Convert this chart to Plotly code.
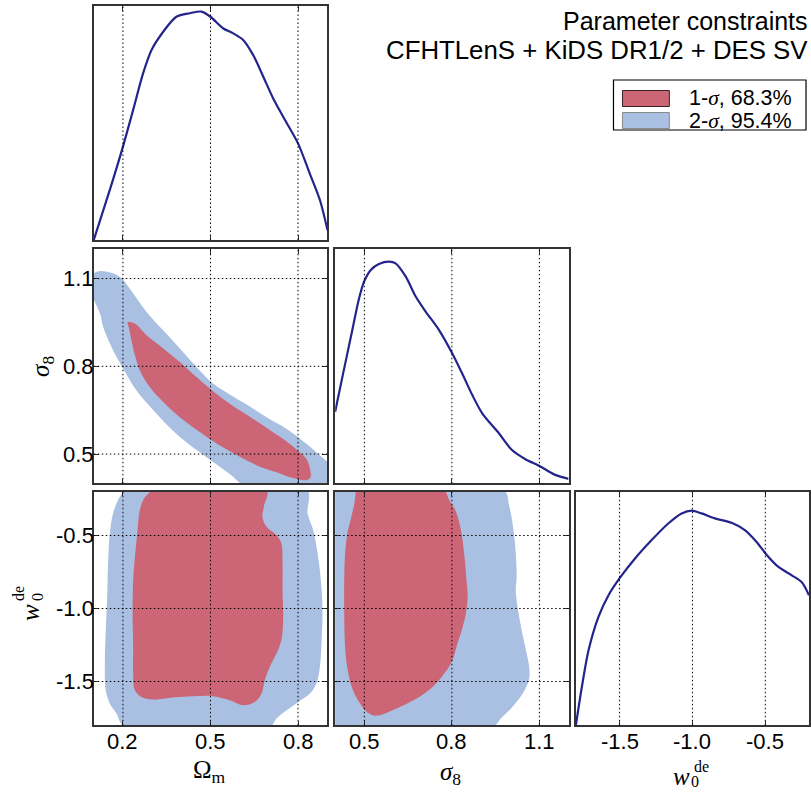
import plotly.graph_objects as go

W, H = 811, 792

# ---------------- data ----------------
# 1D marginal of Omega_m
om_x = [0.100, 0.155, 0.200, 0.235, 0.269, 0.298, 0.338, 0.383, 0.429, 0.469, 0.500,
        0.543, 0.578, 0.612, 0.646, 0.681, 0.715, 0.749, 0.800, 0.840, 0.875, 0.901]
om_p = [0.000, 0.214, 0.399, 0.556, 0.712, 0.812, 0.890, 0.954, 0.969, 0.976, 0.954,
        0.905, 0.883, 0.855, 0.791, 0.698, 0.605, 0.527, 0.413, 0.285, 0.171, 0.043]

# 1D marginal of sigma_8
s8_x = [0.400, 0.425, 0.454, 0.482, 0.499, 0.522, 0.550, 0.585, 0.607, 0.642, 0.676,
        0.710, 0.756, 0.801, 0.835, 0.870, 0.904, 0.961, 1.006, 1.052, 1.100, 1.154, 1.200]
s8_p = [0.306, 0.456, 0.627, 0.791, 0.862, 0.912, 0.937, 0.947, 0.940, 0.883, 0.798,
        0.734, 0.655, 0.556, 0.470, 0.377, 0.299, 0.214, 0.142, 0.103, 0.074, 0.036, 0.019]

# 1D marginal of w0
w0_x = [-1.800, -1.759, -1.713, -1.645, -1.576, -1.492, -1.394, -1.280, -1.166, -1.074,
        -1.006, -0.937, -0.846, -0.732, -0.640, -0.561, -0.490, -0.412, -0.321, -0.252, -0.200]
w0_p = [0.000, 0.164, 0.321, 0.464, 0.557, 0.636, 0.714, 0.793, 0.864, 0.907,
        0.919, 0.907, 0.886, 0.867, 0.836, 0.786, 0.729, 0.679, 0.643, 0.614, 0.557]

# Omega_m - sigma_8 contours
oms8_2s_om = [0.098, 0.121, 0.166, 0.195, 0.223, 0.281, 0.338, 0.395, 0.463, 0.509, 0.566,
              0.623, 0.692, 0.761, 0.829, 0.875, 0.905, 0.910, 0.623, 0.566, 0.486, 0.395,
              0.315, 0.246, 0.201, 0.166, 0.132, 0.123, 0.109, 0.098]
oms8_2s_s8 = [1.118, 1.126, 1.118, 1.101, 1.066, 0.986, 0.923, 0.861, 0.786, 0.741, 0.704,
              0.670, 0.626, 0.586, 0.535, 0.495, 0.466, 0.390, 0.390, 0.432, 0.489, 0.558,
              0.638, 0.718, 0.792, 0.855, 0.935, 0.975, 1.009, 1.032]
oms8_1s_om = [0.218, 0.241, 0.281, 0.338, 0.395, 0.452, 0.509, 0.566, 0.623, 0.692, 0.761,
              0.806, 0.831, 0.841, 0.843, 0.829, 0.783, 0.726, 0.669, 0.601, 0.532, 0.463,
              0.395, 0.338, 0.292, 0.258, 0.241, 0.229, 0.221, 0.215]
oms8_1s_s8 = [0.952, 0.946, 0.906, 0.861, 0.815, 0.763, 0.715, 0.672, 0.635, 0.590, 0.543,
              0.506, 0.480, 0.449, 0.421, 0.411, 0.418, 0.438, 0.457, 0.491, 0.529, 0.575,
              0.626, 0.678, 0.729, 0.786, 0.838, 0.889, 0.929, 0.949]

# Omega_m - w0 contours
omw_2s_om = [0.201, 0.829, 0.833, 0.852, 0.869, 0.881, 0.884, 0.881, 0.875, 0.863, 0.841,
             0.801, 0.761, 0.726, 0.703, 0.206, 0.178, 0.155, 0.141, 0.138, 0.141, 0.146,
             0.149, 0.155, 0.166, 0.183, 0.198]
omw_2s_w = [-0.180, -0.180, -0.349, -0.463, -0.646, -0.874, -1.034, -1.217, -1.400, -1.514,
            -1.583, -1.640, -1.697, -1.754, -1.811, -1.811, -1.720, -1.651, -1.560, -1.377,
            -1.149, -0.920, -0.691, -0.486, -0.349, -0.257, -0.207]
omw_1s_om = [0.296, 0.692, 0.683, 0.678, 0.692, 0.726, 0.743, 0.747, 0.747, 0.749, 0.743,
             0.726, 0.703, 0.686, 0.675, 0.652, 0.612, 0.566, 0.509, 0.441, 0.372, 0.303,
             0.263, 0.241, 0.235, 0.235, 0.233, 0.235, 0.241, 0.249, 0.258, 0.272, 0.290]
omw_1s_w = [-0.180, -0.180, -0.303, -0.371, -0.440, -0.497, -0.554, -0.691, -0.874, -1.080,
            -1.217, -1.309, -1.400, -1.491, -1.583, -1.640, -1.663, -1.629, -1.601, -1.601,
            -1.610, -1.624, -1.606, -1.560, -1.446, -1.263, -1.034, -0.806, -0.646, -0.486,
            -0.326, -0.246, -0.207]

# sigma_8 - w0 contours
s8w_2s_s8 = [0.391, 0.974, 0.997, 1.011, 1.019, 1.022, 1.019, 1.025, 1.037, 1.054, 1.065,
             1.065, 1.052, 1.031, 1.002, 0.968, 0.939, 0.391]
s8w_2s_w = [-0.180, -0.180, -0.303, -0.463, -0.623, -0.783, -0.874, -0.989, -1.126, -1.286,
            -1.400, -1.480, -1.549, -1.617, -1.686, -1.754, -1.811, -1.811]
s8w_1s_s8 = [0.472, 0.768, 0.791, 0.814, 0.831, 0.842, 0.850, 0.854, 0.848, 0.837, 0.819,
             0.802, 0.774, 0.734, 0.688, 0.642, 0.597, 0.551, 0.528, 0.505, 0.482, 0.459,
             0.442, 0.434, 0.431, 0.431, 0.434, 0.442, 0.454, 0.465]
s8w_1s_w = [-0.180, -0.180, -0.257, -0.337, -0.463, -0.623, -0.806, -0.920, -1.034, -1.126,
            -1.240, -1.354, -1.446, -1.537, -1.606, -1.656, -1.697, -1.731, -1.731, -1.702,
            -1.640, -1.549, -1.411, -1.263, -1.034, -0.806, -0.623, -0.486, -0.383, -0.291]

# ticks
om_ticks = [0.2, 0.5, 0.8]
om_ticktext = ["0.2", "0.5", "0.8"]
s8_ticks = [0.5, 0.8, 1.1]
s8_ticktext = ["0.5", "0.8", "1.1"]
w0_ticks = [-1.5, -1.0, -0.5]
w0_ticktext = ["-1.5", "-1.0", "-0.5"]

om_range = [0.1, 0.9]
s8_range = [0.4, 1.2]
w0_range = [-1.8, -0.2]

title_lines = ["Parameter constraints", "CFHTLenS + KiDS DR1/2 + DES SV"]
legend_labels = ["1-<span style=\"font-family:'Liberation Serif'\"><i>σ</i></span>, 68.3%",
                 "2-<span style=\"font-family:'Liberation Serif'\"><i>σ</i></span>, 95.4%"]

# ---------------- styles ----------------
RED = "#CC6677"
BLUE = "#AAC0E3"
NAVY = "#24248C"
FRAME = "#333333"
SANS = "Liberation Sans, Arial, sans-serif"
SERIF = "Liberation Serif, Times New Roman, serif"
TICKFONT = dict(family=SANS, size=22, color="black")


def px_x(p):
    return p / W


def px_y(p):
    return 1 - p / H


col_l = [94, 336, 577.3]
col_r = [328, 570, 811]
row_t = [6, 249.3, 491.7]
row_b = [240, 483.3, 725.3]


def xdom(c):
    return [px_x(col_l[c]), min(1.0, px_x(col_r[c]))]


def ydom(r):
    return [px_y(row_b[r]), px_y(row_t[r])]


fig = go.Figure()


def fill(x, y, color, xa, ya):
    fig.add_trace(go.Scatter(x=x, y=y, xaxis=xa, yaxis=ya, mode="lines",
                             line=dict(color=color, width=0, shape="spline", smoothing=1.0),
                             fill="toself", fillcolor=color, hoverinfo="skip", showlegend=False))


def curve(x, y, xa, ya):
    fig.add_trace(go.Scatter(x=x, y=y, xaxis=xa, yaxis=ya, mode="lines",
                             line=dict(color=NAVY, width=2.2, shape="spline", smoothing=0.8),
                             hoverinfo="skip", showlegend=False))


# panel 1: Omega_m 1D
curve(om_x, om_p, "x", "y")
# panel 2: Omega_m - sigma_8
fill(oms8_2s_om, oms8_2s_s8, BLUE, "x2", "y2")
fill(oms8_1s_om, oms8_1s_s8, RED, "x2", "y2")
# panel 3: sigma_8 1D
curve(s8_x, s8_p, "x3", "y3")
# panel 4: Omega_m - w0
fill(omw_2s_om, omw_2s_w, BLUE, "x4", "y4")
fill(omw_1s_om, omw_1s_w, RED, "x4", "y4")
# panel 5: sigma_8 - w0
fill(s8w_2s_s8, s8w_2s_w, BLUE, "x5", "y5")
fill(s8w_1s_s8, s8w_1s_w, RED, "x5", "y5")
# panel 6: w0 1D
curve(w0_x, w0_p, "x6", "y6")

base = dict(showline=True, linecolor=FRAME, linewidth=1.5, mirror="ticks",
            ticks="inside", ticklen=5, tickwidth=1.2, tickcolor=FRAME,
            showgrid=False, zeroline=False, fixedrange=True, layer="above traces",
            showticklabels=False, tickfont=TICKFONT)

panels = [
    (0, 0, om_range, om_ticks, om_ticktext, False, [0, 1.0], None, None, False),
    (0, 1, om_range, om_ticks, om_ticktext, False, s8_range, s8_ticks, s8_ticktext, True),
    (1, 1, s8_range, s8_ticks, s8_ticktext, False, [0, 1.0], None, None, False),
    (0, 2, om_range, om_ticks, om_ticktext, True, w0_range, w0_ticks, w0_ticktext, True),
    (1, 2, s8_range, s8_ticks, s8_ticktext, True, w0_range, w0_ticks, w0_ticktext, False),
    (2, 2, w0_range, w0_ticks, w0_ticktext, True, [0, 1.0], None, None, False),
]

layout_axes = {}
shapes = []
annotations = []
for i, (c, r, xr, xt, xtt, xl, yr, yt, ytt, yl) in enumerate(panels):
    sfx = "" if i == 0 else str(i + 1)
    xid, yid = "x" + sfx, "y" + sfx
    xa = dict(base, domain=xdom(c), range=xr, tickvals=xt, anchor=yid)
    if yt is None:
        ya = dict(base, domain=ydom(r), range=yr, ticks="", mirror=True, anchor=xid)
    else:
        ya = dict(base, domain=ydom(r), range=yr, tickvals=yt, anchor=xid)
    layout_axes["xaxis" + sfx] = xa
    layout_axes["yaxis" + sfx] = ya
    # dotted grid lines drawn above the fills
    for v in xt:
        shapes.append(dict(type="line", xref=xid, yref=f"{yid} domain", x0=v, x1=v, y0=0, y1=1,
                           line=dict(color="black", width=1, dash="1.5px,2.5px"), layer="above"))
    if yt is not None:
        for v in yt:
            shapes.append(dict(type="line", xref=f"{xid} domain", yref=yid, x0=0, x1=1, y0=v, y1=v,
                               line=dict(color="black", width=1, dash="1.5px,2.5px"), layer="above"))
    # tick labels (placed through the axis scale)
    if xl:
        for v, t in zip(xt, xtt):
            annotations.append(dict(text=t, x=v, xref=xid, y=px_y(741), yref="paper",
                                    xanchor="center", yanchor="middle", showarrow=False,
                                    font=TICKFONT))
    if yl:
        for v, t in zip(yt, ytt):
            annotations.append(dict(text=t, x=px_x(96), xref="paper", y=v, yref=yid,
                                    xanchor="right", yanchor="middle", showarrow=False,
                                    font=TICKFONT))

# title
annotations.append(dict(text=title_lines[0], x=px_x(812), y=px_y(21), xref="paper", yref="paper",
                        xanchor="right", yanchor="middle", showarrow=False,
                        font=dict(family=SANS, size=25, color="black")))
annotations.append(dict(text=title_lines[1], x=px_x(812), y=px_y(50), xref="paper", yref="paper",
                        xanchor="right", yanchor="middle", showarrow=False,
                        font=dict(family=SANS, size=25.8, color="black")))

# legend (box, swatches, labels)
shapes.append(dict(type="rect", xref="paper", yref="paper", x0=px_x(615), x1=px_x(808),
                   y0=px_y(130), y1=px_y(80), line=dict(color="black", width=1.2),
                   fillcolor="white", layer="above"))
leg_rows = [(98.5, RED, "#3a1f25"), (120.5, BLUE, "#8a8a8a")]
for (cy, col, edge), lab in zip(leg_rows, legend_labels):
    shapes.append(dict(type="rect", xref="paper", yref="paper", x0=px_x(624), x1=px_x(671),
                       y0=px_y(cy + 8), y1=px_y(cy - 8), line=dict(color=edge, width=1),
                       fillcolor=col, layer="above"))
    annotations.append(dict(text=lab, x=px_x(689), y=px_y(cy), xref="paper", yref="paper",
                            xanchor="left", yanchor="middle", showarrow=False,
                            font=dict(family=SANS, size=21.5, color="black")))

# axis labels
lab_font = dict(family=SERIF, size=25, color="black")
small_font = dict(family=SERIF, size=16, color="black")
annotations.append(dict(text="Ω<sub>m</sub>", x=px_x(210), y=px_y(771), xref="paper", yref="paper",
                        xanchor="center", yanchor="middle", showarrow=False, font=lab_font))
annotations.append(dict(text="<i>σ</i><sub>8</sub>", x=px_x(452), y=px_y(773), xref="paper", yref="paper",
                        xanchor="center", yanchor="middle", showarrow=False, font=lab_font))
annotations.append(dict(text="<i>σ</i><sub>8</sub>", x=px_x(42), y=px_y(366), xref="paper", yref="paper",
                        xanchor="center", yanchor="middle", showarrow=False, font=lab_font, textangle=-90))
# w0^de bottom
annotations.append(dict(text="<i>w</i>", x=px_x(683), y=px_y(776), xref="paper", yref="paper",
                        xanchor="center", yanchor="middle", showarrow=False, font=lab_font))
annotations.append(dict(text="0", x=px_x(697), y=px_y(781), xref="paper", yref="paper",
                        xanchor="center", yanchor="middle", showarrow=False, font=small_font))
annotations.append(dict(text="de", x=px_x(703), y=px_y(766), xref="paper", yref="paper",
                        xanchor="center", yanchor="middle", showarrow=False, font=small_font))
# w0^de left (rotated)
annotations.append(dict(text="<i>w</i>", x=px_x(30), y=px_y(612), xref="paper", yref="paper",
                        xanchor="center", yanchor="middle", showarrow=False, font=lab_font, textangle=-90))
annotations.append(dict(text="0", x=px_x(37), y=px_y(597), xref="paper", yref="paper",
                        xanchor="center", yanchor="middle", showarrow=False, font=small_font, textangle=-90))
annotations.append(dict(text="de", x=px_x(18), y=px_y(593), xref="paper", yref="paper",
                        xanchor="center", yanchor="middle", showarrow=False, font=small_font, textangle=-90))

fig.update_layout(width=W, height=H, margin=dict(l=0, r=0, t=0, b=0),
                  paper_bgcolor="white", plot_bgcolor="white", showlegend=False,
                  shapes=shapes, annotations=annotations, **layout_axes)

fig.write_html("out.html", config={"displayModeBar": False})

# remove the default page margin so the figure sits at the window's top-left corner
with open("out.html", "r", encoding="utf-8") as f:
    html = f.read()
html = html.replace("<head>", "<head><style>html,body{margin:0;padding:0;overflow:hidden;}</style>", 1)
with open("out.html", "w", encoding="utf-8") as f:
    f.write(html)
